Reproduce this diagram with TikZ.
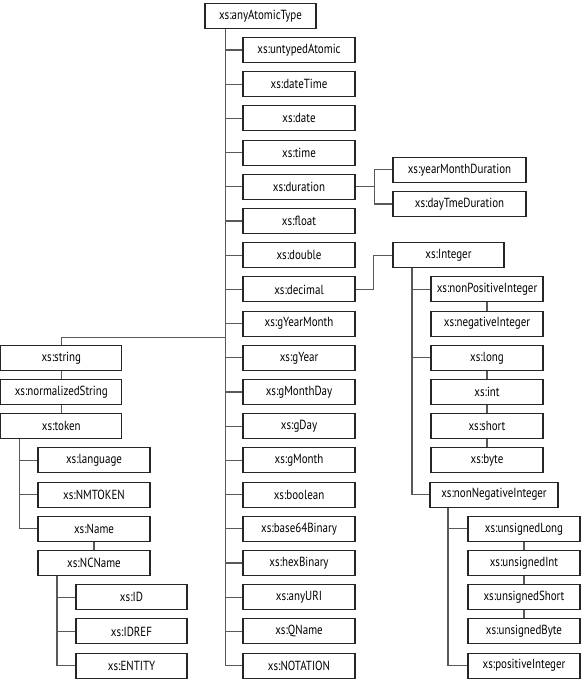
\documentclass[tikz,border=0pt]{standalone}
\usepackage{fontspec}
\setmainfont{PT Sans}[FakeStretch=0.83]

\begin{document}
\begin{tikzpicture}[x=1pt, y=-34.2pt]
	\tikzstyle{every node}=[draw=black!85, line width=1.1pt, minimum height=25pt, minimum width=112pt, inner sep=1pt, font=\fontsize{13.2}{15}\selectfont]
	\tikzstyle{link}=[line width=1.3pt, draw=black!65]

	\useasboundingbox (0,-0.462) rectangle (581,19.45);

	% root
	\node[minimum width=111pt](Any_Atomic) at (260.5, 0) {xs:anyAtomicType};

	% primitive types
	\node(Untyped_Atomic) at (299, 1) {xs:untypedAtomic};
	\node(Date_Time) at (299, 2) {xs:dateTime};
	\node(Date) at (299, 3) {xs:date};
	\node(Time) at (299, 4) {xs:time};
	\node(Duration) at (299, 5) {xs:duration};
	\node(Float) at (299, 6) {xs:float};
	\node(Double) at (299, 7) {xs:double};
	\node(Decimal) at (299, 8) {xs:decimal};
	\node(G_Year_Month) at (299, 9) {xs:gYearMonth};
	\node(G_Year) at (299, 10) {xs:gYear};
	\node(G_Month_Day) at (299, 11) {xs:gMonthDay};
	\node(G_Day) at (299, 12) {xs:gDay};
	\node(G_Month) at (299, 13) {xs:gMonth};
	\node(Boolean) at (299, 14) {xs:boolean};
	\node(Base64_Binary) at (299, 15) {xs:base64Binary};
	\node(Hex_Binary) at (299, 16) {xs:hexBinary};
	\node(Any_URI) at (299, 17) {xs:anyURI};
	\node(QName) at (299, 18) {xs:QName};
	\node(Notation) at (299, 19) {xs:NOTATION};

	% durations
	\node[minimum width=133pt](Year_Month_Dur) at (459.5, 4.5) {xs:yearMonthDuration};
	\node[minimum width=133pt](Day_Time_Dur) at (459.5, 5.5) {xs:dayTmeDuration};

	% integers
	\node[minimum width=111pt](Integer) at (448.5, 7) {xs:Integer};
	\node(Non_Positive) at (487, 8) {xs:nonPositiveInteger};
	\node(Negative) at (487, 9) {xs:negativeInteger};
	\node(Long) at (487, 10) {xs:long};
	\node(Int) at (487, 11) {xs:int};
	\node(Short) at (487, 12) {xs:short};
	\node(Byte) at (487, 13) {xs:byte};
	\node[minimum width=128pt](Non_Negative) at (494, 14) {xs:nonNegativeInteger};
	\node(Unsigned_Long) at (524, 15) {xs:unsignedLong};
	\node(Unsigned_Int) at (524, 16) {xs:unsignedInt};
	\node(Unsigned_Short) at (524, 17) {xs:unsignedShort};
	\node(Unsigned_Byte) at (524, 18) {xs:unsignedByte};
	\node(Positive) at (524, 19) {xs:positiveInteger};

	% strings
	\node[minimum width=121pt](String) at (61.3, 10) {xs:string};
	\node[minimum width=121pt](Normalized) at (61.3, 11) {xs:normalizedString};
	\node[minimum width=121pt](Token) at (61.3, 12) {xs:token};
	\node(Language) at (94, 13) {xs:language};
	\node(NMTOKEN) at (94, 14) {xs:NMTOKEN};
	\node(Name) at (94, 15) {xs:Name};
	\node(NCName) at (94, 16) {xs:NCName};
	\node[minimum width=111pt](ID) at (131.5, 17) {xs:ID};
	\node[minimum width=111pt](IDREF) at (131.5, 18) {xs:IDREF};
	\node[minimum width=111pt](Entity) at (131.5, 19) {xs:ENTITY};

	% lines
	% root - primitive types
	\coordinate (Trunk) at ([xshift=-35]Any_Atomic.south);
	\foreach \t in {Untyped_Atomic, Date_Time, Date, Time, Duration, Float, Double, Decimal, G_Year_Month, G_Year, G_Month_Day, G_Day, G_Month, Boolean, Base64_Binary, Hex_Binary, Any_URI, QName, Notation}
		\draw[link](Trunk) |- (\t.west);

	% duration - durations
	\coordinate (Dur_Fork) at ([xshift=19]Duration.east);
	\draw[link](Duration.east) -- (Dur_Fork) |- (Year_Month_Dur.west);
	\draw[link](Dur_Fork) |- (Day_Time_Dur.west);

	% decimal - integer
	\draw[link](Decimal.east) -- ++(18, 0) |- (Integer.west);
	\coordinate (Int_Trunk) at ([xshift=-36.5]Integer.south);
	\draw[link](Int_Trunk) |- (Non_Positive.west);
	\draw[link](Int_Trunk) |- (Long.west);
	\draw[link](Int_Trunk) |- (Non_Negative.west);
	\draw[link](Non_Positive) -- (Negative);
	\draw[link](Long) -- (Int) -- (Short) -- (Byte);

	% non negative - unsigned
	\coordinate (Non_Neg_Trunk) at ([xshift=-46]Non_Negative.south);
	\draw[link](Non_Neg_Trunk) |- (Unsigned_Long.west);
	\draw[link](Non_Neg_Trunk) |- (Positive.west);
	\draw[link](Unsigned_Long) -- (Unsigned_Int) -- (Unsigned_Short) -- (Unsigned_Byte);

	% root - string
	\coordinate (String_Fork) at (Trunk |- 0, 9.4);
	\draw[link](String_Fork) -| (String.north);
	\draw[link](String) -- (Normalized) -- (Token);

	% token - names
	\coordinate (Token_Trunk) at ([xshift=-42]Token.south);
	\draw[link](Token_Trunk) |- (Language.west);
	\draw[link](Token_Trunk) |- (NMTOKEN.west);
	\draw[link](Token_Trunk) |- (Name.west);
	\draw[link](Name) -- (NCName);

	% ncname - ids
	\coordinate (NCName_Trunk) at ([xshift=-37]NCName.south);
	\draw[link](NCName_Trunk) |- (ID.west);
	\draw[link](NCName_Trunk) |- (IDREF.west);
	\draw[link](NCName_Trunk) |- (Entity.west);
\end{tikzpicture}
\end{document}
